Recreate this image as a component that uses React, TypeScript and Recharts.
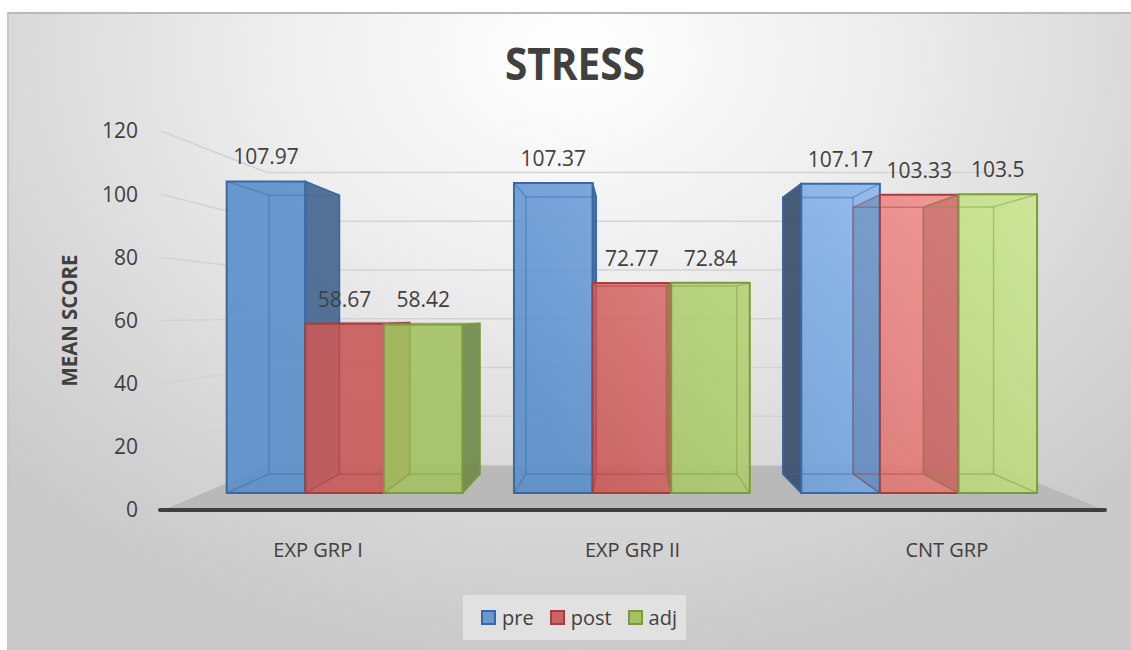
import React from 'react'
import {
  BarChart,
  Bar,
  XAxis,
  YAxis,
  CartesianGrid,
  LabelList,
} from 'recharts'

// ============================================
// Data
// ============================================

const CATEGORIES = ['EXP GRP I', 'EXP GRP II', 'CNT GRP']
const PRE = [107.97, 107.37, 107.17]
const POST = [58.67, 72.77, 103.33]
const ADJ = [58.42, 72.84, 103.5]
const Y_TICKS = [0, 20, 40, 60, 80, 100, 120]

const SERIES = [
  { key: 'pre', name: 'pre', values: PRE },
  { key: 'post', name: 'post', values: POST },
  { key: 'adj', name: 'adj', values: ADJ },
]

const data = CATEGORIES.map((name, i) => {
  const row: Record<string, string | number> = { name }
  SERIES.forEach(s => { row[s.key] = s.values[i] })
  return row
})

// ============================================
// Styles
// ============================================

const FONT = '"Open Sans", "Noto Sans", sans-serif'
const TEXT = '#404040'
const GRID = '#d3d3d3'

const STYLE: Record<string, { from: string; to: string; edge: string; sideR: string; sideL: string; swatch: string }> = {
  pre: { from: '#5a8ecb', to: '#9ac3f6', edge: '#3a68a6', sideR: '#47678f', sideL: '#3a4e6b', swatch: '#6a98d0' },
  post: { from: '#c85a59', to: '#f89996', edge: '#a63e3c', sideR: '#9a4543', sideL: '#7a3634', swatch: '#cd6462' },
  adj: { from: '#a2c262', to: '#cae690', edge: '#7c9a3e', sideR: '#6f8a4a', sideL: '#5a7238', swatch: '#a4c464' },
}

// fake 3d: everything is projected toward one vanishing point
const VX = 620
const VY = 300
const K_FRONT = 0.914
const K_BACK = 0.817
const K_WALL = 0.772

const proj = (k: number, px: number, py: number): [number, number] => [VX + k * (px - VX), VY + k * (py - VY)]
const pts = (list: Array<[number, number]>) => list.map(p => p.join(',')).join(' ')

const sideFace = (X: number, ya: number, yb: number) => [
  proj(K_FRONT, X, ya), proj(K_BACK, X, ya), proj(K_BACK, X, yb), proj(K_FRONT, X, yb),
] as Array<[number, number]>

// ============================================
// Shapes
// ============================================

function BarBox(props: any) {
  const { x, y, width, height, payload, si } = props
  const s = SERIES[si]
  const st = STYLE[s.key]
  const val = Number(payload[s.key])
  if (!height || height <= 0 || !val) return null

  const bottom = y + height
  const ppu = height / val
  const topOf = (j: number) => (j >= 0 && j < SERIES.length ? bottom - Number(payload[SERIES[j].key]) * ppu : null)
  const L = x
  const R = x + width
  const leftOfEye = x + width / 2 < VX

  const fTL = proj(K_FRONT, L, y), fTR = proj(K_FRONT, R, y)
  const fBL = proj(K_FRONT, L, bottom), fBR = proj(K_FRONT, R, bottom)
  const bTL = proj(K_BACK, L, y), bTR = proj(K_BACK, R, y)
  const bBL = proj(K_BACK, L, bottom), bBR = proj(K_BACK, R, bottom)

  let outward: Array<[number, number]> | null = null
  let outColor = st.sideR
  if (leftOfEye) {
    outward = sideFace(R, y, bottom)
  } else {
    outColor = st.sideL
    const ln = topOf(si - 1)
    if (ln === null) outward = sideFace(L, y, bottom)
    else if (ln > y + 1) outward = sideFace(L, y, ln)
  }

  let away: Array<[number, number]> | null = null
  if (!leftOfEye) {
    const rn = topOf(si + 1)
    if (rn !== null) away = sideFace(R, Math.max(y, rn), bottom)
  }

  return (
    <g>
      {outward && (
        <polygon points={pts(outward)} fill={outColor} fillOpacity={0.92} stroke={st.edge} strokeWidth={1.5} />
      )}
      <polygon
        points={pts([fTL, fTR, fBR, fBL])}
        fill={`url(#front-${s.key})`}
        fillOpacity={0.9}
      />
      {away && <polygon points={pts(away)} fill={st.sideR} fillOpacity={0.35} />}
      <g stroke={st.edge} strokeOpacity={0.45} strokeWidth={1.5} fill="none">
        <polygon points={pts([bTL, bTR, bBR, bBL])} />
        <line x1={fTL[0]} y1={fTL[1]} x2={bTL[0]} y2={bTL[1]} />
        <line x1={fTR[0]} y1={fTR[1]} x2={bTR[0]} y2={bTR[1]} />
        <line x1={fBL[0]} y1={fBL[1]} x2={bBL[0]} y2={bBL[1]} />
        <line x1={fBR[0]} y1={fBR[1]} x2={bBR[0]} y2={bBR[1]} />
      </g>
      <polygon points={pts([fTL, fTR, fBR, fBL])} fill="none" stroke={st.edge} strokeWidth={2} />
    </g>
  )
}

const makeShape = (si: number) => (props: any) => <BarBox {...props} si={si} />

function GridLine(p: any) {
  const { x1, y1, x2, index } = p
  const bottom = Number(p.y) + Number(p.height)
  const isFloor = Number.isFinite(bottom) ? Math.abs(y1 - bottom) < 1 : index === 0
  const a = proj(K_WALL, x1, y1)
  const b = proj(K_WALL, x2, y1)
  return (
    <g key={`grid-${index}`}>
      {isFloor && <polygon points={pts([[x1, y1], [x2, y1], b, a])} fill="#b9b9b9" />}
      <line x1={x1} y1={y1} x2={a[0]} y2={a[1]} stroke={GRID} strokeWidth={1.5} />
      <line x1={a[0]} y1={a[1]} x2={b[0]} y2={b[1]} stroke={GRID} strokeWidth={1.5} />
      {isFloor && (
        <line x1={x1 - 1} y1={y1} x2={x2 + 1} y2={y1} stroke="#3f3f3f" strokeWidth={4} strokeLinecap="round" />
      )}
    </g>
  )
}

function ValueLabel(props: any) {
  const { x, y, width, value } = props
  if (value == null) return null
  const [px, py] = proj(K_FRONT, Number(x) + Number(width) / 2, Number(y))
  return (
    <text x={px} y={py - 17} textAnchor="middle" fill={TEXT} fontSize={21} style={{ fontFamily: FONT }}>
      {String(value)}
    </text>
  )
}

function YTitle(props: any) {
  const vb = props.viewBox || { y: 118, height: 379 }
  const cy = vb.y + vb.height / 2
  return (
    <text
      x={61}
      y={cy}
      transform={`rotate(-90 61 ${cy})`}
      textAnchor="middle"
      dominantBaseline="central"
      fill={TEXT}
      fontSize={22}
      fontWeight={700}
      textLength={132}
      lengthAdjust="spacingAndGlyphs"
      style={{ fontFamily: FONT }}
    >
      MEAN SCORE
    </text>
  )
}

// ============================================
// Main Component
// ============================================

export default function App() {
  return (
    <div style={{ position: 'absolute', left: 0, top: 0, width: 1131, height: 650, background: '#fff', overflow: 'hidden' }}>
      {/* chart frame */}
      <div
        style={{
          position: 'absolute',
          left: 7,
          top: 12,
          width: 1130,
          height: 645,
          boxSizing: 'border-box',
          borderTop: '2px solid #b9b9b9',
          borderLeft: '2px solid #c6c6c6',
          background: 'radial-gradient(ellipse 70% 95% at 50% 6%, #ffffff 0%, #eeeeee 38%, #dadada 70%, #c9c9c9 100%)',
        }}
      />

      <svg width={1131} height={110} style={{ position: 'absolute', left: 0, top: 0 }}>
        <text
          x={575}
          y={80}
          textAnchor="middle"
          fill={TEXT}
          fontSize={44}
          fontWeight={700}
          textLength={140}
          lengthAdjust="spacingAndGlyphs"
          style={{ fontFamily: FONT }}
        >
          STRESS
        </text>
      </svg>

      <div style={{ position: 'absolute', left: 7, top: 13 }}>
        <BarChart
          width={1124}
          height={637}
          data={data}
          barGap={0}
          margin={{ top: 118, right: 27, bottom: 100, left: 0 }}
        >
          <defs>
            {SERIES.map(s => (
              <linearGradient key={s.key} id={`front-${s.key}`} gradientUnits="userSpaceOnUse" x1={593} y1={487} x2={1043} y2={187}>
                <stop offset="0%" stopColor={STYLE[s.key].from} />
                <stop offset="100%" stopColor={STYLE[s.key].to} />
              </linearGradient>
            ))}
          </defs>

          <CartesianGrid vertical={false} horizontal={(p: any) => <GridLine {...p} />} />

          <XAxis
            dataKey="name"
            height={40}
            axisLine={false}
            tickLine={false}
            tickMargin={27}
            tick={{ fill: TEXT, fontSize: 20, fontFamily: FONT }}
          />
          <YAxis
            width={154}
            domain={[0, 120]}
            ticks={Y_TICKS}
            axisLine={false}
            tickLine={false}
            tickMargin={17}
            tick={{ fill: TEXT, fontSize: 21, fontFamily: FONT }}
            label={{ content: (p: any) => <YTitle {...p} /> }}
          />

          {SERIES.map((s, si) => (
            <Bar
              key={s.key}
              dataKey={s.key}
              name={s.name}
              barSize={86}
              isAnimationActive={false}
              shape={makeShape(si)}
            >
              <LabelList dataKey={s.key} content={(p: any) => <ValueLabel {...p} />} />
            </Bar>
          ))}
        </BarChart>
      </div>

      {/* legend */}
      <div
        style={{
          position: 'absolute',
          left: 463,
          top: 595,
          width: 223,
          height: 45,
          background: '#e1e1e1',
          display: 'flex',
          alignItems: 'center',
          paddingLeft: 18,
          boxSizing: 'border-box',
          fontFamily: FONT,
          fontSize: 20,
          color: TEXT,
        }}
      >
        {SERIES.map(s => (
          <div key={s.key} style={{ display: 'flex', alignItems: 'center', marginRight: 16 }}>
            <span
              style={{
                display: 'inline-block',
                width: 15,
                height: 15,
                boxSizing: 'border-box',
                background: STYLE[s.key].swatch,
                border: `2px solid ${STYLE[s.key].edge}`,
                marginRight: 6,
              }}
            />
            <span style={{ lineHeight: '24px' }}>{s.name}</span>
          </div>
        ))}
      </div>
    </div>
  )
}
